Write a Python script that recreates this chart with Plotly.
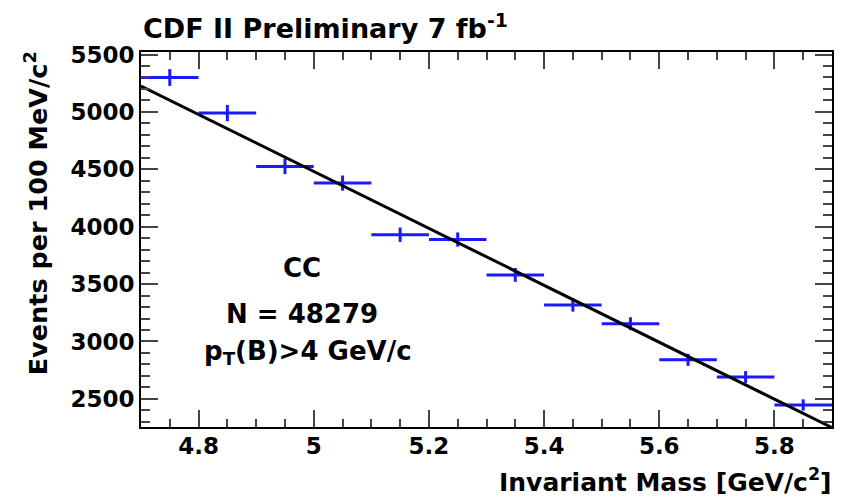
import plotly.graph_objects as go

# Data
bin_centers = [4.75, 4.85, 4.95, 5.05, 5.15, 5.25, 5.35, 5.45, 5.55, 5.65, 5.75, 5.85]
bin_halfwidth = [0.05] * 12
events = [5300, 4990, 4525, 4380, 3930, 3888, 3580, 3318, 3155, 2840, 2690, 2447]
errors = [73, 71, 67, 66, 63, 62, 60, 58, 56, 53, 52, 49]
fit_x = [4.7, 5.9]
fit_y = [5225, 2250]
x_ticks = [4.8, 5.0, 5.2, 5.4, 5.6, 5.8]
x_ticktext = ["4.8", "5", "5.2", "5.4", "5.6", "5.8"]
y_ticks = [2500, 3000, 3500, 4000, 4500, 5000, 5500]

FONT = "DejaVu Sans, Liberation Sans, Arial, sans-serif"
BLUE = "#1a1aff"
TICKC = "#444444"

# plot area in pixels
L, R, T, B = 141, 834, 52, 427
W, H = 844, 499
pw, ph = R - L, B - T

fig = go.Figure()
fig.add_trace(go.Scatter(
    x=bin_centers, y=events, mode="markers",
    marker=dict(size=1, color=BLUE),
    error_x=dict(type="data", array=bin_halfwidth, width=0, thickness=3, color=BLUE),
    error_y=dict(type="data", array=errors, width=0, thickness=3, color=BLUE),
    showlegend=False,
))
fig.add_trace(go.Scatter(
    x=fit_x, y=fit_y, mode="lines",
    line=dict(color="black", width=3), showlegend=False,
))

axis_common = dict(
    showline=True, linecolor="black", linewidth=2, mirror="allticks",
    ticks="inside", tickcolor=TICKC, tickwidth=1.5, ticklen=17,
    showgrid=False, zeroline=False,
    tickfont=dict(family=FONT, size=23, color="black", weight="bold"),
)

fig.update_xaxes(
    range=[4.7, 5.9], tickvals=x_ticks, ticktext=x_ticktext, ticklabelstandoff=-3,
    minor=dict(dtick=0.05, tick0=4.7, ticks="inside", ticklen=8, tickcolor=TICKC, tickwidth=1.5),
    **axis_common,
)
fig.update_yaxes(
    range=[2255, 5522], tickvals=y_ticks,
    minor=dict(dtick=100, tick0=2500, ticks="inside", ticklen=9, tickcolor=TICKC, tickwidth=1.5),
    **axis_common,
)

fig.update_layout(
    width=W, height=H,
    margin=dict(l=L, r=W - R, t=T, b=H - B),
    plot_bgcolor="white", paper_bgcolor="white",
    font=dict(family=FONT, color="black"),
)

bold = dict(family=FONT, color="black", weight="bold")


def px(xp):
    return (xp - L) / pw


def py(yp):
    return 1 - (yp - T) / ph


fig.add_annotation(text="CDF II Preliminary 7 fb<sup>-1</sup>", xref="paper", yref="paper",
                   x=px(141), y=py(26), xanchor="left", yanchor="middle", showarrow=False,
                   font=dict(size=27, **bold))
fig.add_annotation(text="Events per 100 MeV/c<sup>2</sup>", xref="paper", yref="paper",
                   x=px(36), y=py(49), xanchor="center", yanchor="top", textangle=-90,
                   showarrow=False, font=dict(size=25.5, **bold))
fig.add_annotation(text="Invariant Mass [GeV/c<sup>2</sup>]", xref="paper", yref="paper",
                   x=px(836), y=py(480), xanchor="right", yanchor="middle", showarrow=False,
                   font=dict(size=25, **bold))
for txt, xx, yy in [("CC", 302, 268), ("N = 48279", 302, 314), ("p<sub>T</sub>(B)>4 GeV/c", 308, 352)]:
    fig.add_annotation(text=txt, xref="paper", yref="paper",
                       x=px(xx), y=py(yy),
                       xanchor="center", yanchor="middle", showarrow=False,
                       font=dict(size=26, **bold))

fig.write_html("out.html")
